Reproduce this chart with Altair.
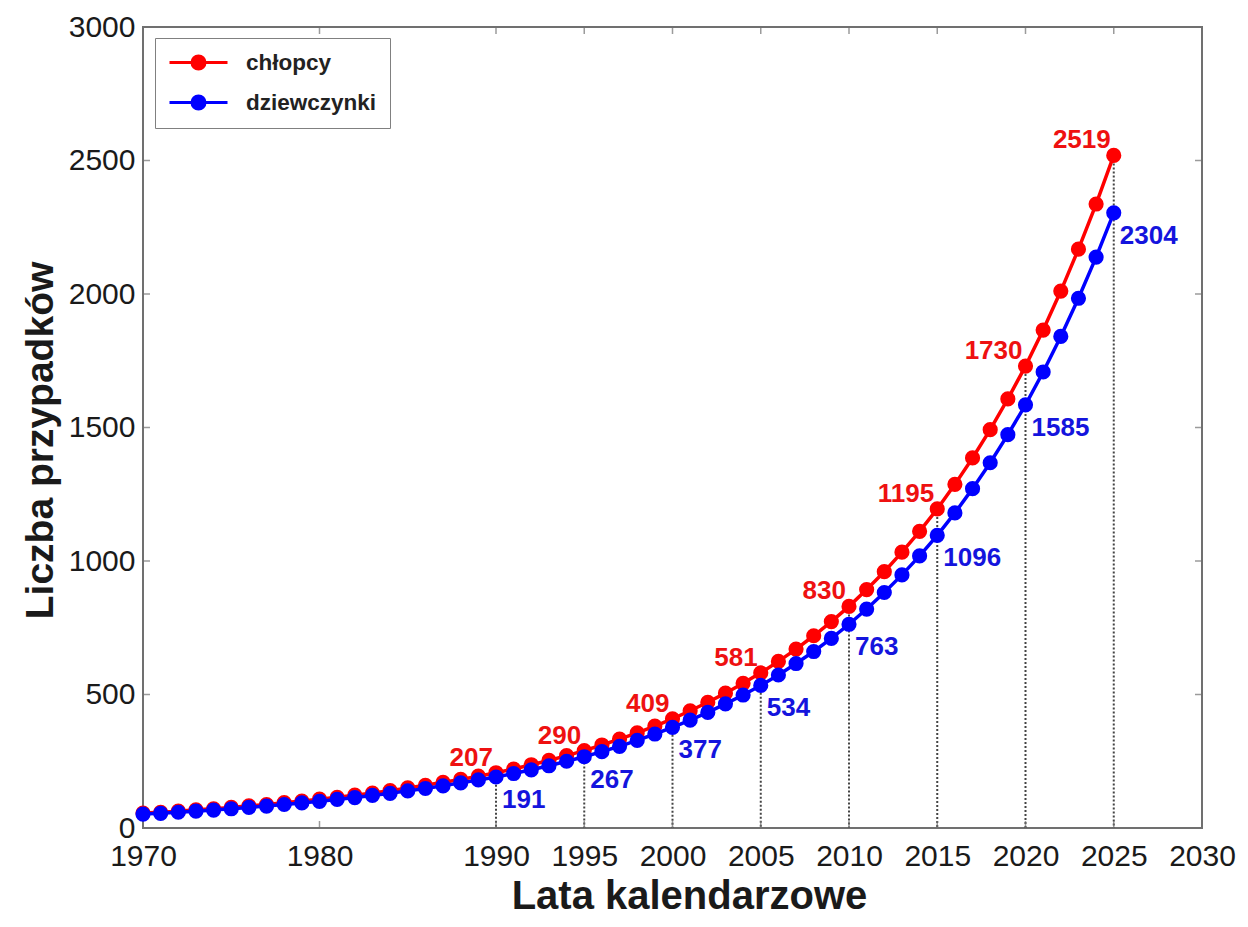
import altair as alt
import pandas as pd

# ---------------- data ----------------
years = list(range(1970, 2026))
boys = [56, 59, 63, 68, 72, 77, 83, 88, 95, 101,
        108, 115, 123, 131, 140, 150, 160, 171, 182, 194,
        207, 221, 237, 253, 271, 290, 311, 333, 356, 382,
        409, 439, 471, 505, 542, 581, 624, 670, 720, 773,
        830, 893, 960, 1033, 1111, 1195, 1287, 1386, 1492, 1607,
        1730, 1865, 2011, 2168, 2337, 2519]
girls = [52, 55, 59, 63, 67, 72, 77, 82, 88, 94,
         100, 107, 114, 122, 130, 139, 148, 158, 169, 180,
         191, 204, 218, 233, 250, 267, 286, 306, 328, 352,
         377, 404, 433, 465, 498, 534, 573, 616, 661, 710,
         763, 820, 882, 948, 1019, 1096, 1180, 1271, 1368, 1473,
         1585, 1708, 1841, 1984, 2138, 2304]
series_names = ["chłopcy", "dziewczynki"]
series_colors = ["#ff0000", "#0000ff"]
label_years = [1990, 1995, 2000, 2005, 2010, 2015, 2020, 2025]
x_ticks = [1970, 1980, 1990, 1995, 2000, 2005, 2010, 2015, 2020, 2025, 2030]
y_ticks = [0, 500, 1000, 1500, 2000, 2500, 3000]

FONT = "Liberation Sans"
W, H = 1059, 801
FRAME = "#707070"

rows = []
for y, b in zip(years, boys):
    rows.append({"year": y, "value": b, "series": series_names[0]})
for y, g in zip(years, girls):
    rows.append({"year": y, "value": g, "series": series_names[1]})
df = pd.DataFrame(rows)

lab_b = df[(df.series == series_names[0]) & df.year.isin(label_years)].copy()
lab_g = df[(df.series == series_names[1]) & df.year.isin(label_years)].copy()
rule_df = lab_b.assign(base=0)

xtick_df = pd.DataFrame([{"year": t, "value": v} for t in x_ticks for v in (0, 3000)])
ytick_df = pd.DataFrame([{"year": e, "value": v} for v in y_ticks for e in (1970, 2030)])

# ---------------- encodings ----------------
x_enc = alt.X(
    "year:Q",
    scale=alt.Scale(domain=[1970, 2030], nice=False, zero=False),
    axis=alt.Axis(
        values=x_ticks, format="d", title="Lata kalendarzowe",
        domain=False, ticks=False, tickSize=0, grid=False, labelFlush=False,
        labelFont=FONT, labelFontSize=30, labelColor="#1a1a1a",
        labelBaseline="alphabetic", labelPadding=37,
        titleFont=FONT, titleFontSize=40, titleFontWeight="bold", titleColor="#1a1a1a",
        titleBaseline="alphabetic", titleX=546, titleY=80,
    ),
)
y_enc = alt.Y(
    "value:Q",
    scale=alt.Scale(domain=[0, 3000], nice=False),
    axis=alt.Axis(
        values=y_ticks, format="d", title="Liczba przypadków",
        domain=False, ticks=False, tickSize=0, grid=False, labelFlush=False,
        labelFont=FONT, labelFontSize=30, labelColor="#1a1a1a", labelPadding=8,
        titleFont=FONT, titleFontSize=39, titleFontWeight="bold", titleColor="#1a1a1a",
        titleBaseline="alphabetic", titleX=-91, titleY=413, titleAngle=-90,
    ),
)
cscale = alt.Scale(domain=series_names, range=series_colors)

# line with a filled dot (dot drawn as concentric stroked rings)
LEGEND_SYMBOL = (
    "M-2.9,0H2.9"
    "M-0.65,0a0.65,0.65 0 1,0 1.3,0a0.65,0.65 0 1,0 -1.3,0"
    "M-0.35,0a0.35,0.35 0 1,0 0.7,0a0.35,0.35 0 1,0 -0.7,0"
    "M-0.08,0a0.08,0.08 0 1,0 0.16,0a0.08,0.08 0 1,0 -0.16,0"
)
leg = alt.Legend(
    orient="none", legendX=12, legendY=11, title=None,
    symbolType=LEGEND_SYMBOL, symbolSize=400, symbolStrokeWidth=3, symbolOffset=19,
    labelFont=FONT, labelFontSize=22.5, labelFontWeight="bold", labelColor="#222222",
    labelOffset=36, padding=13, rowPadding=15,
    strokeColor="#808080", fillColor="white",
)

# ---------------- layers ----------------
rules = alt.Chart(rule_df).mark_rule(
    color="#444444", strokeWidth=2, strokeDash=[2, 2]
).encode(x=x_enc, y=y_enc, y2=alt.Y2("base:Q"))

xticks_l = alt.Chart(xtick_df).mark_tick(
    orient="vertical", size=14, thickness=1.5, color=FRAME, clip=True
).encode(x=x_enc, y=y_enc)
yticks_l = alt.Chart(ytick_df).mark_tick(
    orient="horizontal", size=14, thickness=1.5, color=FRAME, clip=True
).encode(x=x_enc, y=y_enc)


def line_layer(name):
    return alt.Chart(df).transform_filter(alt.datum.series == name).mark_line(
        strokeWidth=3.5
    ).encode(x=x_enc, y=y_enc, color=alt.Color("series:N", scale=cscale, legend=leg))


def point_layer(name):
    return alt.Chart(df).transform_filter(alt.datum.series == name).mark_point(
        filled=True, size=230, opacity=1
    ).encode(x=x_enc, y=y_enc, color=alt.Color("series:N", scale=cscale, legend=None))


lab_red = alt.Chart(lab_b).mark_text(
    align="right", baseline="alphabetic", dx=-3, dy=-7,
    font=FONT, fontSize=26, fontWeight="bold", color="#ee1111"
).encode(x=x_enc, y=y_enc, text=alt.Text("value:Q", format="d"))

lab_blue = alt.Chart(lab_g).mark_text(
    align="left", baseline="alphabetic", dx=6, dy=31,
    font=FONT, fontSize=26, fontWeight="bold", color="#1414dd"
).encode(x=x_enc, y=y_enc, text=alt.Text("value:Q", format="d"))

chart = alt.layer(
    rules, xticks_l, yticks_l,
    line_layer(series_names[0]), point_layer(series_names[0]),
    line_layer(series_names[1]), point_layer(series_names[1]),
    lab_red, lab_blue,
).properties(
    width=W, height=H,
    autosize=alt.AutoSizeParams(type="none"),
    padding={"left": 135, "top": 19, "right": 38, "bottom": 86},
    background="white",
).configure_view(
    stroke=FRAME, strokeWidth=2
)

chart.save("out.html", embed_options={"renderer": "svg", "actions": False})
